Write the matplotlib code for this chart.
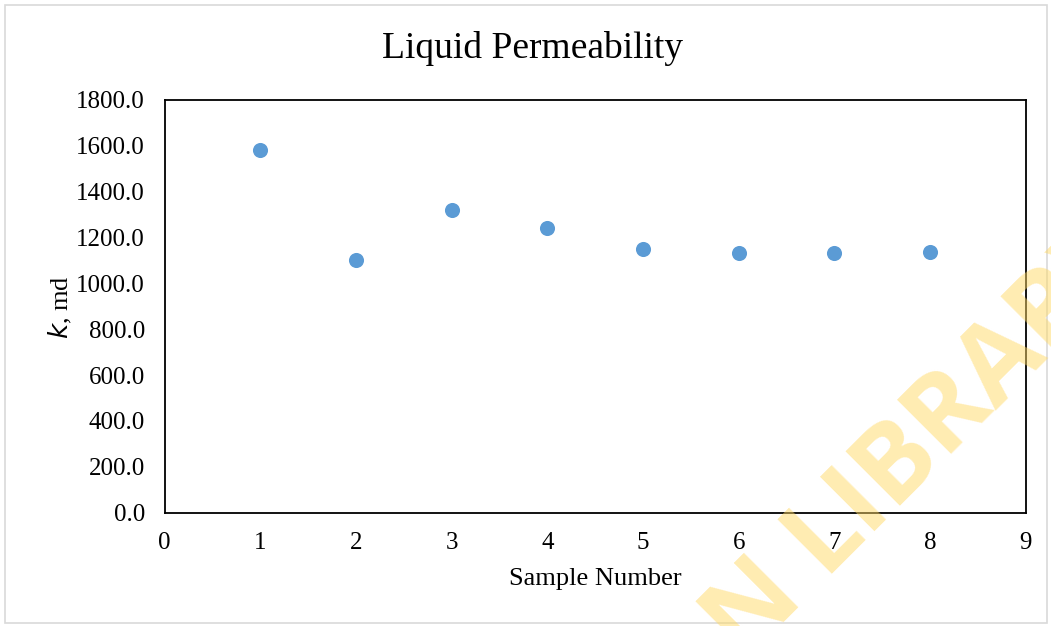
import matplotlib
matplotlib.use("Agg")
import matplotlib.pyplot as plt
from matplotlib.patches import Rectangle
import numpy as np

samples = [1, 2, 3, 4, 5, 6, 7, 8]
permeability = [1582, 1103, 1319, 1243, 1150, 1134, 1134, 1138]
x_ticks = list(range(0, 10))
y_ticks = [0, 200, 400, 600, 800, 1000, 1200, 1400, 1600, 1800]

plt.rcParams['font.family'] = ['Liberation Serif', 'DejaVu Serif']

W, H = 1051, 626
fig = plt.figure(figsize=(W / 100, H / 100), dpi=100)
ax = fig.add_axes([164.5 / W, 1 - 512.5 / H, (1025.7 - 164.5) / W, (512.5 - 100) / H])

ax.scatter(samples, permeability, s=118, color='#5B9BD5', zorder=3, linewidths=0)

ax.set_xlim(0, 9)
ax.set_ylim(0, 1800)
ax.set_xticks(x_ticks)
ax.set_yticks(y_ticks)
ax.set_yticklabels([f"{v:.1f}" for v in y_ticks])
ax.tick_params(axis='both', length=0, labelsize=18, colors='black')
ax.tick_params(axis='x', pad=14)
ax.tick_params(axis='y', pad=14)
for sp in ax.spines.values():
    sp.set_linewidth(1.3)
    sp.set_color('black')

ax.set_xlabel('Sample Number', fontsize=19, labelpad=10)
fig.text(60 / W, 1 - 307 / H, '$\\mathit{k}$, md', rotation=90, fontsize=19,
         ha='center', va='center')
fig.text(533 / W, 1 - 48 / H, 'Liquid Permeability', fontsize=27, ha='center', va='center')

# outer light frame
fig.patches.append(Rectangle((5 / W, 3 / H), (W - 9) / W, (H - 8) / H, transform=fig.transFigure,
                             fill=False, edgecolor='#D9D9D9', linewidth=1.2))

# watermark (two pieces so that the letters sit where the reference shows them)
wm_kw = dict(rotation=45, rotation_mode='anchor', ha='left', va='baseline', fontsize=78,
             fontweight='bold', family='Open Sans', color='#FFD966', alpha=0.5, zorder=10)
ax_l, ay_l = 822, 574  # baseline-left of "LIBRARY" in pixels from top-left
fig.text(ax_l / W, 1 - ay_l / H, 'LIBRARY', **wm_kw)
renderer = fig.canvas.get_renderer()
tmp = fig.text(0, 0, 'N ', fontsize=78, fontweight='bold', family='Open Sans')
w = tmp.get_window_extent(renderer).width
tmp.remove()
d = w / np.sqrt(2)
fig.text((ax_l - d) / W, 1 - (ay_l + d) / H, 'N', **wm_kw)

fig.savefig('out.png', dpi=100)
